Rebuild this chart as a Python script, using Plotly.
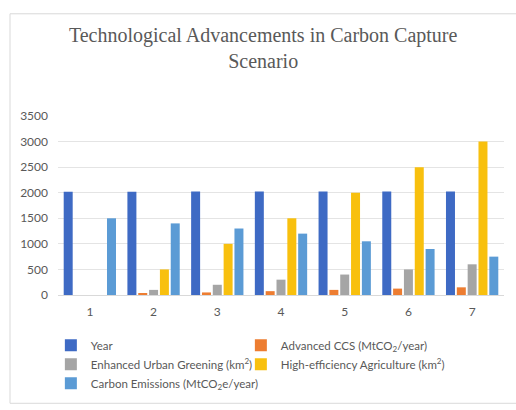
import plotly.graph_objects as go

categories = ["1", "2", "3", "4", "5", "6", "7"]
year = [2020, 2021, 2022, 2023, 2024, 2025, 2026]
advanced_ccs = [0, 25, 50, 75, 100, 125, 150]
urban_greening = [0, 100, 200, 300, 400, 500, 600]
agriculture = [0, 500, 1000, 1500, 2000, 2500, 3000]
emissions = [1500, 1400, 1300, 1200, 1050, 900, 750]

series = [
    ("Year", year, "#3E6AC4", "legend"),
    ("Advanced CCS (MtCO<sub>2</sub>/year)", advanced_ccs, "#ED7D31", "legend2"),
    ("Enhanced Urban Greening (km<sup>2</sup>)", urban_greening, "#A5A5A5", "legend"),
    ("High-efficiency Agriculture (km<sup>2</sup>)", agriculture, "#F8C00E", "legend2"),
    ("Carbon Emissions (MtCO<sub>2</sub>e/year)", emissions, "#5B9BD5", "legend"),
]

fig = go.Figure()
for name, vals, color, leg in series:
    fig.add_trace(go.Bar(x=categories, y=vals, name=name, marker_color=color,
                         marker_line_width=0, legend=leg))

gray = "#595959"
legend_style = dict(orientation="v", xanchor="left", y=-0.2, yanchor="top",
                    font=dict(family="Lato", size=11.5, color=gray),
                    traceorder="normal", bgcolor="rgba(0,0,0,0)")
fig.update_layout(
    width=516, height=410,
    margin=dict(l=58, r=12, t=116, b=112),
    paper_bgcolor="white", plot_bgcolor="white",
    barmode="group", bargap=0.15, bargroupgap=0.17,
    font=dict(family="Lato", size=12, color=gray),
    title=dict(text="Technological Advancements in Carbon Capture<br>Scenario",
               font=dict(family="Liberation Serif", size=20, color=gray),
               x=0.51, xanchor="center", xref="container",
               y=1 - 42 / 410, yanchor="top", yref="container"),
    showlegend=True,
    legend=dict(x=-0.016, **legend_style),
    legend2=dict(x=0.41, **legend_style),
    xaxis=dict(showgrid=False, showline=True, linecolor="#D9D9D9", linewidth=1,
               ticks="", ticklabelstandoff=6, tickfont=dict(size=12, color=gray)),
    yaxis=dict(range=[0, 3500], dtick=500, showgrid=True, gridcolor="#E4E4E4",
               gridwidth=1, zeroline=False, showline=False, ticks="",
               ticklabelstandoff=9, tickfont=dict(size=12, color=gray)),
    shapes=[dict(type="rect", xref="paper", yref="paper",
                 x0=-0.1076, x1=1.04, y0=-0.605, y1=1.571,
                 line=dict(color="#D9D9D9", width=1), layer="below")],
)

fig.write_html("out.html", config={"displayModeBar": False},
               post_script="document.body.style.margin='0';")
